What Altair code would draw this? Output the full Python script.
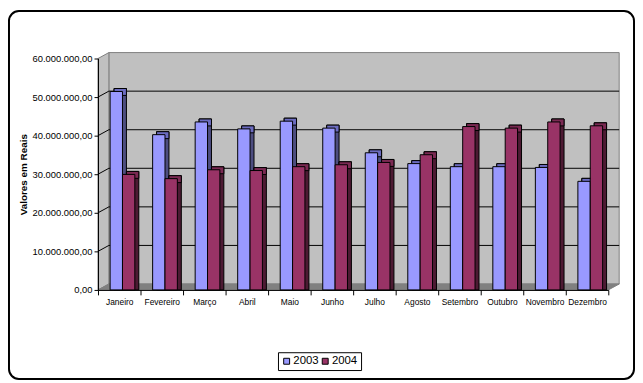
import altair as alt
import pandas as pd

# ---------------- data ----------------
months = ["Janeiro", "Fevereiro", "Março", "Abril", "Maio", "Junho",
          "Julho", "Agosto", "Setembro", "Outubro", "Novembro", "Dezembro"]
series = ["2003", "2004"]
values_2003 = [51.2e6, 40.0e6, 43.3e6, 41.5e6, 43.5e6, 41.7e6,
               35.3e6, 32.5e6, 31.7e6, 31.7e6, 31.5e6, 27.9e6]
values_2004 = [29.7e6, 28.6e6, 30.9e6, 30.7e6, 31.7e6, 32.2e6,
               32.8e6, 34.8e6, 42.1e6, 41.7e6, 43.3e6, 42.3e6]
y_ticks = [0, 10e6, 20e6, 30e6, 40e6, 50e6, 60e6]
grid_values = [10e6, 20e6, 30e6, 40e6, 50e6]

rows = []
for m, a, b in zip(months, values_2003, values_2004):
    rows.append({"Mes": m, "Ano": "2003", "Valor": a})
    rows.append({"Mes": m, "Ano": "2004", "Valor": b})
df = pd.DataFrame(rows)

# ---------------- geometry / style ----------------
W, H = 516, 234
YMAX = 60e6
DEPTH_X, DEPTH_Y = 11, 6        # wall depth
DX, DY = 4, -3                  # bar depth
BAR_W = 12.5
TOP_DELTA = 3 / H * YMAX
WALL_DELTA = DEPTH_Y / H * YMAX
FONT = "Liberation Sans"

front_colors = {"2003": "#9999FF", "2004": "#993366"}
top_colors = {"2003": "#6B6BBF", "2004": "#7A2952"}
side_colors = {"2003": "#4D4D80", "2004": "#4D1A33"}
bar_shift = {"2003": -3.0, "2004": 9.5}

label_expr = ("replace(replace(replace(format(datum.value, ',.2f'), regexp(',', 'g'), '#'), "
              "'.', ','), regexp('#', 'g'), '.')")

y_axis = alt.Axis(values=y_ticks, labelExpr=label_expr, tickSize=4, tickColor="black",
                  domainColor="black", labelColor="black", labelFont=FONT, labelFontSize=9.5,
                  labelPadding=2, grid=False, title="Valores em Reais", titleFont=FONT,
                  titleFontSize=10, titleFontWeight="bold", titleColor="black",
                  titlePadding=4, zindex=1)
x_axis = alt.Axis(title="", tickBand="extent", tickSize=5, tickColor="black",
                  domainColor="black", labelColor="black", labelFont=FONT,
                  labelFontSize=8.5, labelAngle=0, labelPadding=3, grid=False, zindex=1)

y_scale = alt.Scale(domain=[0, YMAX], nice=False, zero=True)
x_scale = alt.Scale(domain=months, paddingInner=0, paddingOuter=0)

def X():
    return alt.X("Mes:N", sort=months, scale=x_scale, axis=x_axis)

def Y(field):
    return alt.Y(field, scale=y_scale, axis=y_axis)

one = pd.DataFrame({"a": [0]})

# back wall
back_wall = alt.Chart(one).mark_rect(fill="#C0C0C0", stroke="#808080", strokeWidth=1).encode(
    x=alt.value(DEPTH_X), x2=alt.value(W + DEPTH_X),
    y=alt.value(-DEPTH_Y), y2=alt.value(H - DEPTH_Y))

# left side wall (parallelogram)
side_df = pd.DataFrame({"px": [0, DEPTH_X], "py": [0, -DEPTH_Y], "py2": [H, H - DEPTH_Y]})
side_wall = alt.Chart(side_df).mark_area(fill="#C0C0C0", stroke="#808080", strokeWidth=1).encode(
    x=alt.X("px:Q", scale=None), y=alt.Y("py:Q", scale=None), y2="py2:Q")

# floor (parallelogram)
floor_df = pd.DataFrame({"px": [0, DEPTH_X, W, W + DEPTH_X],
                         "py": [H, H - DEPTH_Y, H - DEPTH_Y, H - DEPTH_Y],
                         "py2": [H, H, H, H - DEPTH_Y]})
floor = alt.Chart(floor_df).mark_area(fill="#808080", stroke="#808080", strokeWidth=1).encode(
    x=alt.X("px:Q", scale=None), y=alt.Y("py:Q", scale=None), y2="py2:Q")

grid_df = pd.DataFrame({"v": grid_values})
grid_back = alt.Chart(grid_df).mark_rule(color="black", strokeWidth=1, yOffset=-DEPTH_Y).encode(
    y=Y("v:Q"), x=alt.value(DEPTH_X), x2=alt.value(W + DEPTH_X))
grid_side = alt.Chart(grid_df).transform_calculate(v2=f"datum.v + {WALL_DELTA}").mark_rule(
    color="black", strokeWidth=1).encode(
    y=Y("v:Q"), y2="v2:Q", x=alt.value(0), x2=alt.value(DEPTH_X))

layers = [back_wall, side_wall, floor, grid_back, grid_side]

sides, tops, fronts = [], [], []
for s in series:
    base = alt.Chart(df).transform_filter(f"datum.Ano == '{s}'")
    sides.append(base.mark_bar(width=BAR_W, xOffset=bar_shift[s] + DX, yOffset=DY - 1,
                               fill=side_colors[s], stroke="black", strokeWidth=1).encode(
        x=X(), y=Y("Valor:Q"), y2=alt.datum(0)))
    tops.append(base.transform_calculate(t2=f"datum.Valor - {TOP_DELTA}").mark_bar(
        width=BAR_W, xOffset=bar_shift[s] + DX, yOffset=DY - 1,
        fill=top_colors[s], stroke="black", strokeWidth=1).encode(
        x=X(), y=Y("Valor:Q"), y2="t2:Q"))
    fronts.append(base.mark_bar(width=BAR_W, xOffset=bar_shift[s], yOffset=-1,
                                stroke="black", strokeWidth=1, opacity=1).encode(
        x=X(), y=Y("Valor:Q"), y2=alt.datum(0),
        color=alt.Color("Ano:N", scale=alt.Scale(domain=series,
                                                   range=[front_colors[k] for k in series]),
                        legend=alt.Legend(title=None, orient="none", legendX=182, legendY=297,
                                          direction="horizontal", symbolType="square",
                                          symbolSize=36, symbolStrokeColor="black",
                                          symbolStrokeWidth=1, symbolOpacity=1,
                                          labelFont=FONT, labelFontSize=11.5,
                                          labelColor="black", labelOffset=1,
                                          columnPadding=0, padding=3,
                                          strokeColor="black", fillColor="white"))))

border = alt.Chart(one).mark_rect(fillOpacity=0, stroke="black", strokeWidth=2,
                                  cornerRadius=10).encode(
    x=alt.value(-90), x2=alt.value(542), y=alt.value(-48), y2=alt.value(324))

chart = alt.layer(*(layers + sides + tops + fronts + [border])).properties(
    width=W, height=H,
    autosize=alt.AutoSizeParams(type="none"),
    padding={"left": 91, "top": 49, "right": 27, "bottom": 90},
    background="white",
).configure_view(stroke=None)

chart.save("out.html", embed_options={"renderer": "svg", "actions": False})
